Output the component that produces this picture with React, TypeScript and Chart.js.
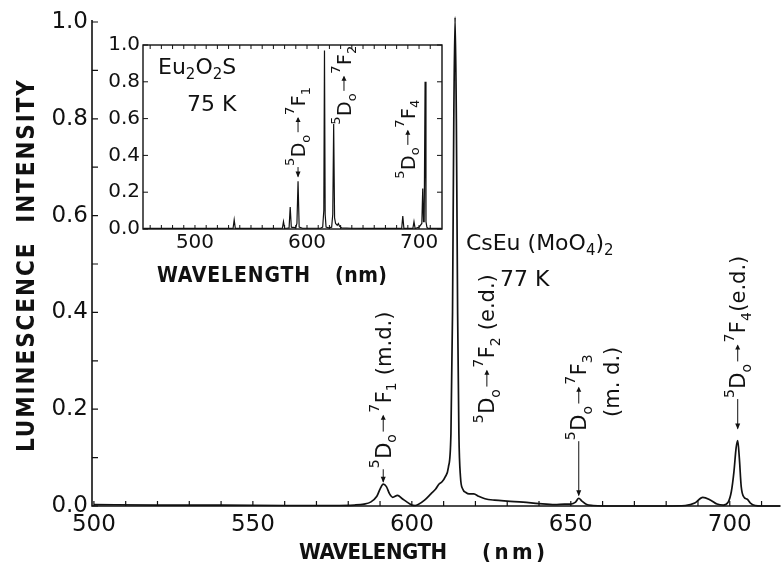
import React, { useEffect, useRef } from 'react';
import { Chart, registerables } from 'chart.js';

Chart.register(...registerables);

// ---- CsEu(MoO4)2 at 77 K : main spectrum (wavelength nm, relative intensity)
const MAIN_WAVELENGTH = [
  500, 520, 540, 560, 575, 582, 585, 587, 589, 590, 591, 592, 593, 594, 595.5, 597, 598.5,
  600, 601, 602, 604, 606, 607.5, 608.5, 609.5, 610.5, 611.5, 612.3, 612.8, 613.2, 613.6,
  614.0, 614.4, 614.8, 615.3, 616, 617, 618, 619.5, 621, 623, 626, 630, 635, 640, 645, 648,
  650, 651.5, 652.5, 653.5, 655, 657, 660, 670, 680, 686, 689, 691.5, 694, 696, 698, 699.5,
  700.5, 701.3, 702, 702.5, 703, 703.6, 704.5, 705.5, 706.5, 708, 710, 716,
];
const MAIN_INTENSITY = [
  0.003, 0.002, 0.002, 0.001, 0.001, 0.002, 0.004, 0.008, 0.02, 0.035, 0.045, 0.04, 0.025, 0.018, 0.022, 0.015, 0.008,
  0.002, 0.001, 0.003, 0.012, 0.025, 0.035, 0.045, 0.05, 0.06, 0.08, 0.15, 0.4, 0.8, 1.01,
  0.8, 0.4, 0.15, 0.06, 0.035, 0.028, 0.025, 0.025, 0.02, 0.015, 0.012, 0.01, 0.008, 0.005, 0.003, 0.004,
  0.004, 0.008, 0.016, 0.01, 0.003, 0.001, 0, 0, 0, 0.001, 0.006, 0.018, 0.012, 0.004, 0.002, 0.008,
  0.03, 0.07, 0.12, 0.135, 0.1, 0.04, 0.018, 0.014, 0.006, 0.001, 0, 0,
];

// ---- Eu2O2S at 75 K : inset spectrum
const INSET_WAVELENGTH = [
  454, 480, 510, 534, 535, 536, 560, 578, 579, 580, 582, 584, 585, 586, 589, 590, 591, 592, 593, 596,
  612, 614, 615, 615.6, 616.2, 617, 619, 622, 623, 623.8, 624.6, 625.5, 627, 628, 629, 631, 640, 660,
  680, 684.5, 685.5, 686.5, 690, 694.5, 695.5, 696.5, 700, 702.5, 703.3, 704, 704.6, 705.4, 706.2, 707, 708, 720,
];
const INSET_INTENSITY = [
  0.003, 0.003, 0.003, 0.003, 0.05, 0.003, 0.003, 0.004, 0.04, 0.004, 0.004, 0.006, 0.12, 0.01, 0.008, 0.01, 0.03, 0.26, 0.01, 0.004,
  0.004, 0.01, 0.1, 0.97, 0.08, 0.01, 0.006, 0.01, 0.08, 0.57, 0.06, 0.03, 0.02, 0.03, 0.015, 0.006, 0.004, 0.003,
  0.003, 0.003, 0.07, 0.003, 0.003, 0.003, 0.04, 0.003, 0.01, 0.03, 0.22, 0.04, 0.04, 0.8, 0.04, 0.01, 0.003, 0.003,
];

// ---- ticks
const MAIN_X_TICKS = [500, 510, 520, 530, 540, 550, 560, 570, 580, 590, 600, 610, 620, 630, 640, 650, 660, 670, 680, 690, 700, 710];
const MAIN_X_LABELS = [500, 550, 600, 650, 700];
const MAIN_Y_TICKS = [0, 0.1, 0.2, 0.3, 0.4, 0.5, 0.6, 0.7, 0.8, 0.9, 1.0];
const MAIN_Y_LABELS = [0, 0.2, 0.4, 0.6, 0.8, 1.0];
const INSET_X_TICKS = [460, 470, 480, 490, 500, 510, 520, 530, 540, 550, 560, 570, 580, 590, 600, 610, 620, 630, 640, 650, 660, 670, 680, 690, 700, 710, 720];
const INSET_X_LABELS = [500, 600, 700];
const INSET_Y_TICKS = [0, 0.2, 0.4, 0.6, 0.8, 1.0];

const INK = '#111';
const FONT = "'DejaVu Sans', 'Noto Sans', sans-serif";
const TITLE_FONT = "'Liberation Sans Narrow', 'DejaVu Sans Condensed', 'DejaVu Sans', sans-serif";

type Seg = { t?: string; k?: 'sup' | 'sub' | 'arrow' };

function transition(j: string, suffix?: string): Seg[] {
  const s: Seg[] = [
    { t: '5', k: 'sup' }, { t: 'D' }, { t: 'o', k: 'sub' }, { k: 'arrow' },
    { t: '7', k: 'sup' }, { t: 'F' }, { t: j, k: 'sub' },
  ];
  if (suffix) s.push({ t: suffix });
  return s;
}

// rotated (reading bottom -> top) text, glyph caps centred on column x, starting at y
function drawRotated(ctx: CanvasRenderingContext2D, x: number, y: number, segs: Seg[], size: number) {
  ctx.save();
  ctx.translate(x, y);
  ctx.rotate(-Math.PI / 2);
  ctx.textBaseline = 'alphabetic';
  ctx.textAlign = 'left';
  const base = size * 0.36;
  const small = Math.round(size * 0.68);
  let cx = 0;
  for (const s of segs) {
    if (s.k === 'arrow') {
      const len = size * 0.85;
      const ay = 0;
      ctx.lineWidth = 1;
      ctx.beginPath();
      ctx.moveTo(cx + 2, ay);
      ctx.lineTo(cx + len, ay);
      ctx.stroke();
      ctx.beginPath();
      ctx.moveTo(cx + len + 1, ay);
      ctx.lineTo(cx + len - 4, ay - 2.5);
      ctx.lineTo(cx + len - 4, ay + 2.5);
      ctx.closePath();
      ctx.fill();
      cx += len + 3;
      continue;
    }
    const fs = s.k ? small : size;
    ctx.font = `${fs}px ${FONT}`;
    const dy = s.k === 'sup' ? base - size * 0.55 : s.k === 'sub' ? base + size * 0.25 : base;
    ctx.fillText(s.t!, cx, dy);
    cx += ctx.measureText(s.t!).width + (s.k ? 0.5 : 0);
  }
  ctx.restore();
}

function drawHoriz(ctx: CanvasRenderingContext2D, x: number, y: number, segs: Seg[], size: number) {
  ctx.save();
  ctx.textBaseline = 'alphabetic';
  ctx.textAlign = 'left';
  const base = size * 0.36;
  const small = Math.round(size * 0.7);
  let cx = x;
  for (const s of segs) {
    const fs = s.k ? small : size;
    ctx.font = `${fs}px ${FONT}`;
    const dy = s.k === 'sub' ? base + size * 0.22 : base;
    ctx.fillText(s.t!, cx, y + dy);
    cx += ctx.measureText(s.t!).width;
  }
  ctx.restore();
}

function fittedText(ctx: CanvasRenderingContext2D, text: string, x: number, y: number, target: number, font: string, rotate = false) {
  ctx.save();
  ctx.font = font;
  (ctx as any).letterSpacing = '0px';
  const w = ctx.measureText(text).width;
  const sp = (target - w) / Math.max(text.length - 1, 1);
  (ctx as any).letterSpacing = `${sp}px`;
  ctx.textBaseline = 'middle';
  ctx.textAlign = 'left';
  if (rotate) {
    ctx.translate(x, y);
    ctx.rotate(-Math.PI / 2);
    ctx.fillText(text, -target / 2, 0);
  } else {
    ctx.fillText(text, x, y);
  }
  ctx.restore();
}

function arrowDown(ctx: CanvasRenderingContext2D, x: number, y0: number, y1: number) {
  ctx.lineWidth = 1;
  ctx.beginPath();
  ctx.moveTo(x, y0);
  ctx.lineTo(x, y1);
  ctx.stroke();
  ctx.beginPath();
  ctx.moveTo(x, y1 + 1);
  ctx.lineTo(x - 2.5, y1 - 5);
  ctx.lineTo(x + 2.5, y1 - 5);
  ctx.closePath();
  ctx.fill();
}

// annotation anchors (data units)
const MAIN_NOTES = [
  { nm: 591, at: 0.078, tip: 0.05, dx: 0, segs: transition('1', ' (m.d.)') },
  { nm: 623.6, at: 0.171, tip: null, dx: 0, segs: transition('2', ' (e.d.)') },
  { nm: 652.5, at: 0.136, tip: 0.022, dx: 0, segs: transition('3') },
  { nm: 652.5, at: 0.184, tip: null, dx: 33, segs: [{ t: '(m. d.)' }] as Seg[] },
  { nm: 702.5, at: 0.223, tip: 0.16, dx: 0, segs: transition('4', '(e.d.)') },
];
const INSET_NOTES = [
  { nm: 592, at: 0.342, tip: 0.285, segs: transition('1') },
  { nm: 633, at: 0.567, tip: null, segs: transition('2') },
  { nm: 690, at: 0.273, tip: null, segs: transition('4') },
];

const mainDecor = {
  id: 'mainDecor',
  afterDatasetsDraw(chart: any) {
    const { ctx, chartArea: ca, scales } = chart;
    const x = scales.x, y = scales.y;
    ctx.save();
    ctx.strokeStyle = INK;
    ctx.fillStyle = INK;
    ctx.lineWidth = 1.6;
    ctx.beginPath();
    ctx.moveTo(ca.left, ca.top - 2);
    ctx.lineTo(ca.left, ca.bottom);
    ctx.lineTo(ca.right, ca.bottom);
    ctx.stroke();
    ctx.lineWidth = 1.2;
    ctx.beginPath();
    for (const v of MAIN_X_TICKS) {
      const px = x.getPixelForValue(v);
      ctx.moveTo(px, ca.bottom);
      ctx.lineTo(px, ca.bottom - 5);
    }
    for (const v of MAIN_Y_TICKS) {
      const py = y.getPixelForValue(v);
      ctx.moveTo(ca.left, py);
      ctx.lineTo(ca.left + 6, py);
    }
    ctx.stroke();

    // axis titles
    fittedText(ctx, 'LUMINESCENCE  INTENSITY', 28, (ca.top + ca.bottom) / 2 + 2, 372, `bold 24px ${TITLE_FONT}`, true);
    fittedText(ctx, 'WAVELENGTH', ca.left + 207, ca.bottom + 47, 148, `bold 22px ${TITLE_FONT}`);
    fittedText(ctx, '(nm)', ca.left + 390, ca.bottom + 47, 63, `bold 22px ${TITLE_FONT}`);

    // sample text
    drawHoriz(ctx, x.getPixelForValue(617), y.getPixelForValue(0.545),
      [{ t: 'CsEu (MoO' }, { t: '4', k: 'sub' }, { t: ')' }, { t: '2', k: 'sub' }], 22);
    drawHoriz(ctx, x.getPixelForValue(627.7), y.getPixelForValue(0.471), [{ t: '77 K' }], 22);

    for (const n of MAIN_NOTES) {
      const px = x.getPixelForValue(n.nm);
      const py = y.getPixelForValue(n.at);
      drawRotated(ctx, px + n.dx, py, n.segs, 21);
      if (n.tip !== null) arrowDown(ctx, px, py + 1, y.getPixelForValue(n.tip));
    }
    ctx.restore();
  },
};

const insetDecor = {
  id: 'insetDecor',
  afterDatasetsDraw(chart: any) {
    const { ctx, chartArea: ca, scales } = chart;
    const x = scales.x, y = scales.y;
    ctx.save();
    ctx.strokeStyle = INK;
    ctx.fillStyle = INK;
    ctx.lineWidth = 1.4;
    ctx.strokeRect(ca.left, ca.top, ca.right - ca.left, ca.bottom - ca.top);
    ctx.lineWidth = 1;
    ctx.beginPath();
    for (const v of INSET_X_TICKS) {
      const px = x.getPixelForValue(v);
      if (px <= ca.left + 1 || px >= ca.right - 1) continue;
      ctx.moveTo(px, ca.bottom);
      ctx.lineTo(px, ca.bottom - 4);
      ctx.moveTo(px, ca.top);
      ctx.lineTo(px, ca.top + 4);
    }
    for (const v of INSET_Y_TICKS) {
      const py = y.getPixelForValue(v);
      ctx.moveTo(ca.left, py);
      ctx.lineTo(ca.left + 5, py);
      ctx.moveTo(ca.right, py);
      ctx.lineTo(ca.right - 5, py);
    }
    ctx.stroke();

    drawHoriz(ctx, ca.left + 15, ca.top + 21,
      [{ t: 'Eu' }, { t: '2', k: 'sub' }, { t: 'O' }, { t: '2', k: 'sub' }, { t: 'S' }], 22);
    drawHoriz(ctx, ca.left + 44, ca.top + 58, [{ t: '75 K' }], 22);

    fittedText(ctx, 'WAVELENGTH', ca.left + 14, ca.bottom + 48, 153, `bold 21px ${TITLE_FONT}`);
    fittedText(ctx, '(nm)', ca.left + 192, ca.bottom + 48, 52, `bold 21px ${TITLE_FONT}`);

    for (const n of INSET_NOTES) {
      const px = x.getPixelForValue(n.nm);
      const py = y.getPixelForValue(n.at);
      drawRotated(ctx, px, py, n.segs, 19);
      if (n.tip !== null) arrowDown(ctx, px, py + 1, y.getPixelForValue(n.tip));
    }
    ctx.restore();
  },
};

export default function App() {
  const mainRef = useRef<HTMLCanvasElement>(null);
  const insetRef = useRef<HTMLCanvasElement>(null);

  useEffect(() => {
    document.body.style.margin = '0';
    const main = new Chart(mainRef.current!, {
      type: 'line',
      data: {
        datasets: [{
          data: MAIN_WAVELENGTH.map((w, i) => ({ x: w, y: MAIN_INTENSITY[i] })),
          borderColor: INK,
          borderWidth: 1.7,
          pointRadius: 0,
          cubicInterpolationMode: 'monotone',
          fill: false,
          clip: false as any,
        }],
      },
      options: {
        responsive: false,
        animation: false,
        events: [],
        layout: { padding: { top: 22, right: 2, left: 0, bottom: 0 } },
        plugins: { legend: { display: false }, tooltip: { enabled: false } },
        scales: {
          x: {
            type: 'linear',
            min: 499.4,
            max: 715.8,
            grid: { display: false, drawTicks: false },
            border: { display: false },
            afterBuildTicks: (s: any) => { s.ticks = MAIN_X_TICKS.map((v) => ({ value: v })); },
            afterFit: (s: any) => { s.height = 74; },
            ticks: {
              autoSkip: false, maxRotation: 0, minRotation: 0, padding: 5, color: INK,
              font: { family: FONT, size: 23 },
              callback: (v: any) => (MAIN_X_LABELS.includes(v) ? String(v) : ''),
            },
          },
          y: {
            type: 'linear',
            min: 0,
            max: 1,
            grid: { display: false, drawTicks: false },
            border: { display: false },
            afterBuildTicks: (s: any) => { s.ticks = MAIN_Y_TICKS.map((v) => ({ value: v })); },
            afterFit: (s: any) => { s.width = 92; },
            ticks: {
              autoSkip: false, padding: 4, color: INK,
              font: { family: FONT, size: 23 },
              callback: (v: any) => (MAIN_Y_LABELS.some((l) => Math.abs(l - v) < 1e-6) ? Number(v).toFixed(1) : ''),
            },
          },
        },
      },
      plugins: [mainDecor],
    } as any);

    const inset = new Chart(insetRef.current!, {
      type: 'line',
      data: {
        datasets: [{
          data: INSET_WAVELENGTH.map((w, i) => ({ x: w, y: INSET_INTENSITY[i] })),
          borderColor: INK,
          borderWidth: 1.2,
          pointRadius: 0,
          tension: 0,
          fill: false,
        }],
      },
      options: {
        responsive: false,
        animation: false,
        events: [],
        layout: { padding: { top: 12, right: 8, left: 0, bottom: 0 } },
        plugins: { legend: { display: false }, tooltip: { enabled: false } },
        scales: {
          x: {
            type: 'linear',
            min: 453.6,
            max: 720.5,
            grid: { display: false, drawTicks: false },
            border: { display: false },
            afterBuildTicks: (s: any) => { s.ticks = INSET_X_TICKS.map((v) => ({ value: v })); },
            afterFit: (s: any) => { s.height = 71; },
            ticks: {
              autoSkip: false, maxRotation: 0, minRotation: 0, padding: 2, color: INK,
              font: { family: FONT, size: 20 },
              callback: (v: any) => (INSET_X_LABELS.includes(v) ? String(v) : ''),
            },
          },
          y: {
            type: 'linear',
            min: 0,
            max: 1,
            grid: { display: false, drawTicks: false },
            border: { display: false },
            afterBuildTicks: (s: any) => { s.ticks = INSET_Y_TICKS.map((v) => ({ value: v })); },
            afterFit: (s: any) => { s.width = 43; },
            ticks: {
              autoSkip: false, padding: 3, color: INK,
              font: { family: FONT, size: 20 },
              callback: (v: any) => Number(v).toFixed(1),
            },
          },
        },
      },
      plugins: [insetDecor],
    } as any);

    return () => { main.destroy(); inset.destroy(); };
  }, []);

  return (
    <div style={{ position: 'relative', width: 782, height: 580, background: '#fff' }}>
      <canvas ref={mainRef} width={782} height={580} style={{ position: 'absolute', left: 0, top: 0 }} />
      <canvas ref={insetRef} width={350} height={270} style={{ position: 'absolute', left: 100, top: 30 }} />
    </div>
  );
}
